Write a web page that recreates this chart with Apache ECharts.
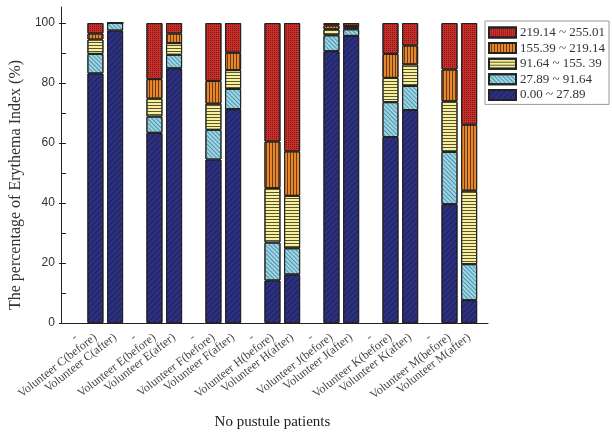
<!DOCTYPE html>
<html>
<head>
<meta charset="UTF-8">
<title>Erythema Index</title>
<script src="https://cdn.jsdelivr.net/npm/echarts@6/dist/echarts.min.js"></script>
</head>
<body style="margin:0">
<div id="main" style="width:612px; height:437px;"></div>
<script type="text/javascript">
// categories on the x axis ("-" slots are the empty spacers)
var categories = ['-', 'Volunteer C(before)', 'Volunteer C(after)',
    '-', 'Volunteer E(before)', 'Volunteer E(after)',
    '-', 'Volunteer F(before)', 'Volunteer F(after)',
    '-', 'Volunteer H(before)', 'Volunteer H(after)',
    '-', 'Volunteer J(before)', 'Volunteer J(after)',
    '-', 'Volunteer K(before)', 'Volunteer K(after)',
    '-', 'Volunteer M(before)', 'Volunteer M(after)'];

var seriesNames = ['0.00 ~ 27.89', '27.89 ~ 91.64', '91.64 ~ 155. 39', '155.39 ~ 219.14', '219.14 ~ 255.01'];

// stacked percentages, bottom to top
var range0 = [null, 83.2, 97.5, null, 63.4, 84.9, null, 54.5, 71.3, null, 14.2, 16.2, null, 90.6, 95.7, null, 62.0, 71.0, null, 39.6, 7.6];
var range1 = [null, 6.5, 2.5, null, 5.4, 4.5, null, 9.9, 6.7, null, 12.6, 8.7, null, 5.3, 2.2, null, 11.6, 8.0, null, 17.4, 12.0];
var range2 = [null, 4.8, 0, null, 6.0, 3.9, null, 8.7, 6.3, null, 18.2, 17.5, null, 2.0, 0.5, null, 8.1, 7.2, null, 16.9, 24.5];
var range3 = [null, 2.0, 0, null, 6.5, 3.2, null, 7.6, 5.8, null, 15.5, 14.8, null, 1.3, 0.6, null, 8.0, 6.3, null, 10.6, 22.0];
var range4 = [null, 3.5, 0, null, 18.7, 3.5, null, 19.3, 9.9, null, 39.5, 42.8, null, 0.8, 1.0, null, 10.3, 7.5, null, 15.5, 33.9];

var yTicks = [0, 20, 40, 60, 80, 100];

var myChart = echarts.init(document.getElementById('main'), null, {renderer: 'canvas'});

var serif = 'Liberation Serif';
var sans = 'Liberation Sans';

// fill colour + hatch pattern per range
var styles = [
    {color: '#2d3080', decal: {symbol: 'rect', symbolSize: 1, color: 'rgba(0,0,0,0.3)', dashArrayX: [1, 0], dashArrayY: [1, 3], rotation: -Math.PI / 4}},
    {color: '#9fd6e4', decal: {symbol: 'rect', symbolSize: 1, color: '#4f93ad', dashArrayX: [1, 0], dashArrayY: [1, 2], rotation: Math.PI / 4}},
    {color: '#f7f09c', decal: {symbol: 'rect', symbolSize: 1, color: '#5a5530', dashArrayX: [1, 0], dashArrayY: [1, 2], rotation: 0}},
    {color: '#e8862c', decal: {symbol: 'rect', symbolSize: 1, color: '#6b3a10', dashArrayX: [1, 0], dashArrayY: [1, 2], rotation: Math.PI / 2}},
    {color: '#c9302c', decal: {symbol: 'rect', symbolSize: 1, color: '#7a1614', dashArrayX: [1, 1], dashArrayY: [1, 1], rotation: 0}}
];
var values = [range0, range1, range2, range3, range4];

var series = [];
for (var i = 0; i < 5; i++) {
    series.push({
        name: seriesNames[i],
        type: 'bar',
        stack: 'total',
        barWidth: 16,
        xAxisIndex: 0,
        yAxisIndex: 0,
        itemStyle: {
            color: styles[i].color,
            borderColor: '#222',
            borderWidth: 1,
            decal: styles[i].decal
        },
        data: values[i]
    });
}

// blank slots only used to draw the half-category ticks of the bottom axis
var tickSlots = [];
for (var k = 0; k < 43; k++) tickSlots.push('');

var option = {
    animation: false,
    backgroundColor: '#fff',
    grid: [
        {left: 61, top: 23, width: 418, height: 300},
        {left: 61, top: 7, width: 427, height: 316}
    ],
    legend: {
        orient: 'vertical',
        left: 485,
        top: 21,
        padding: [5, 4, 3, 3],
        itemWidth: 27,
        itemHeight: 10,
        itemGap: 2.6,
        borderColor: '#999',
        borderWidth: 1,
        icon: 'rect',
        data: seriesNames.slice().reverse(),
        textStyle: {fontFamily: serif, fontSize: 13, color: '#333', padding: [0, 0, 0, -1]}
    },
    xAxis: [
        {
            type: 'category',
            gridIndex: 0,
            data: categories,
            axisLine: {show: false},
            axisTick: {show: false},
            axisLabel: {interval: 0, rotate: 38, margin: 13, fontFamily: serif, fontSize: 12, color: '#444'},
            name: 'No pustule patients',
            nameLocation: 'middle',
            nameGap: 92,
            nameTextStyle: {fontFamily: serif, fontSize: 15, color: '#222'}
        },
        {
            type: 'category',
            gridIndex: 1,
            data: tickSlots,
            axisLine: {lineStyle: {color: '#222'}},
            axisTick: {interval: 0, length: 4, lineStyle: {color: '#222'}},
            axisLabel: {show: false}
        }
    ],
    yAxis: [
        {
            type: 'value',
            gridIndex: 0,
            min: yTicks[0],
            max: yTicks[yTicks.length - 1],
            interval: 20,
            axisLine: {show: false},
            axisTick: {show: true, length: 7, lineStyle: {color: '#222'}},
            minorTick: {show: true, splitNumber: 2, length: 4, lineStyle: {color: '#222'}},
            splitLine: {show: false},
            axisLabel: {fontFamily: sans, fontSize: 12, color: '#333', margin: 11},
            name: 'The percentage of Erythema Index (%)',
            nameLocation: 'middle',
            nameGap: 34,
            nameTextStyle: {fontFamily: serif, fontSize: 16, color: '#333', padding: [0, 24, 0, 0]}
        },
        {
            type: 'value',
            gridIndex: 1,
            min: 0,
            max: 105,
            axisLine: {show: true, lineStyle: {color: '#222'}},
            axisTick: {show: false},
            axisLabel: {show: false},
            splitLine: {show: false}
        }
    ],
    series: series
};

myChart.setOption(option);
</script>
</body>
</html>
